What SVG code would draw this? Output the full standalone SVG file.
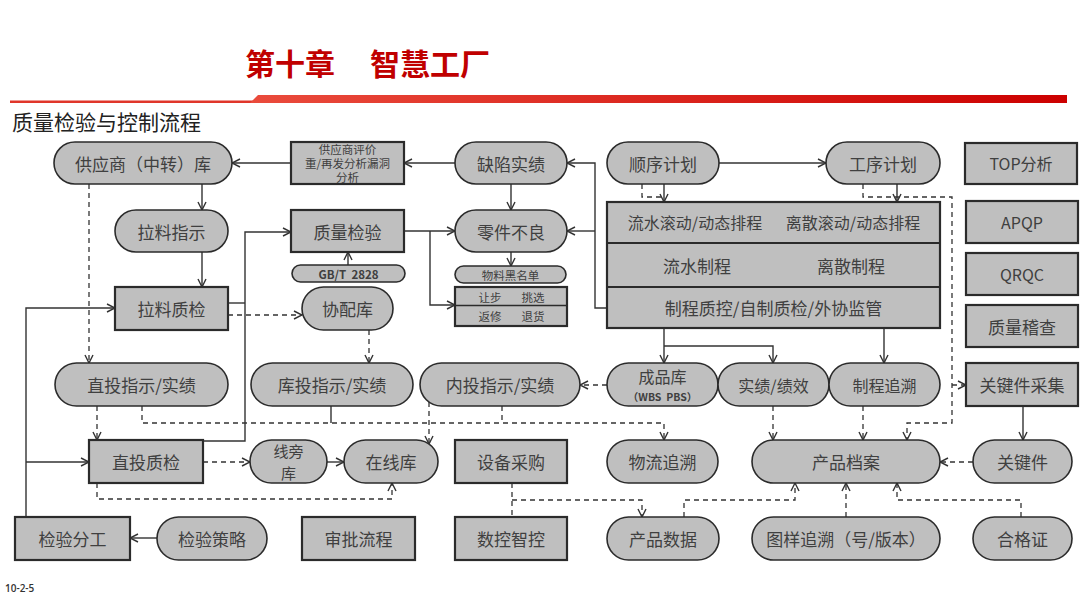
<svg xmlns="http://www.w3.org/2000/svg" width="1080" height="608" viewBox="0 0 1080 608">
<defs>
<linearGradient id="rg" x1="0" x2="1" y1="0" y2="0"><stop offset="0" stop-color="#ea4b3c"/><stop offset="1" stop-color="#cc0000"/></linearGradient>
<marker id="ah" markerWidth="10" markerHeight="10" refX="9" refY="5" orient="auto" markerUnits="userSpaceOnUse"><path d="M1,1 L9,5 L1,9" fill="none" stroke="#333" stroke-width="1.4"/></marker>
<style>
.n{fill:#bfbfbf;stroke:#2b2b2b;stroke-width:1.6}
.b{fill:#bfbfbf;stroke:#2b2b2b;stroke-width:2.2}
.t{font-family:"Noto Sans CJK SC","Noto Sans",sans-serif;font-size:17px;fill:#404040;text-anchor:middle;dominant-baseline:central}
.sm{font-size:11.5px}
.f16{font-size:16px}
.f15{font-size:15px}
.f11b{font-size:11.5px;font-weight:bold}
.f10b{font-size:10.5px;font-weight:bold}
.s{fill:none;stroke:#333;stroke-width:1.4}
.d{fill:none;stroke:#333;stroke-width:1.3;stroke-dasharray:5 4}
</style>
</defs>
<rect width="1080" height="608" fill="#ffffff"/>
<g id="header">
<text x="245" y="62" font-family="'Noto Sans CJK SC',sans-serif" font-size="30" font-weight="bold" fill="#c00000" dominant-baseline="central">第十章　<tspan dx="5">智慧工厂</tspan></text>
<rect x="10" y="100.5" width="250" height="2.5" fill="#e0362a"/>
<polygon points="250,103 258,95 1067,95 1067,103" fill="url(#rg)"/>
<text x="12" y="121" font-family="'Noto Sans CJK SC',sans-serif" font-size="21" fill="#222" dominant-baseline="central">质量检验与控制流程</text>
<text x="5" y="592" font-family="'Open Sans',sans-serif" font-size="10" font-weight="600" fill="#333">10-2-5</text>
</g>
<g id="connectors">
<path class="s" d="M291,163 H232" marker-end="url(#ah)"/>
<path class="s" d="M455,163 H404" marker-end="url(#ah)"/>
<path class="s" d="M202,184 V210" marker-end="url(#ah)"/>
<path class="s" d="M202,252 V287" marker-end="url(#ah)"/>
<path class="s" d="M511,184 V210" marker-end="url(#ah)"/>
<path class="s" d="M719,163 H826" marker-end="url(#ah)"/>
<path class="s" d="M607,308 H595 V163 H567" marker-end="url(#ah)"/>
<path class="s" d="M595,231 H567" marker-end="url(#ah)"/>
<path class="s" d="M404,231 H455" marker-end="url(#ah)"/>
<path class="s" d="M430,231 V305 H455" marker-end="url(#ah)"/>
<path class="s" d="M511,252 V266" marker-end="url(#ah)"/>
<path class="s" d="M348,265 V252" marker-end="url(#ah)"/>
<path class="s" d="M664,184 V202" marker-end="url(#ah)"/>
<path class="s" d="M897,184 V202" marker-end="url(#ah)"/>
<path class="s" d="M664,328 V363" marker-end="url(#ah)"/>
<path class="s" d="M664,346 H773 V363" marker-end="url(#ah)"/>
<path class="s" d="M884,328 V363" marker-end="url(#ah)"/>
<path class="s" d="M1023,406 V440" marker-end="url(#ah)"/>
<path class="s" d="M157,538 H130" marker-end="url(#ah)"/>
<path class="s" d="M228,303 H245"/>
<path class="s" d="M203,441 H245 V232 H291" marker-end="url(#ah)"/>
<path class="s" d="M26,517 V308 H115" marker-end="url(#ah)"/>
<path class="s" d="M26,462 H89" marker-end="url(#ah)"/>
<path class="s" d="M327,462 H344" marker-end="url(#ah)"/>
<path class="s" d="M331,406 V423"/>
<path class="d" d="M89,184 V363" marker-end="url(#ah)"/>
<path class="d" d="M228,315 H302" marker-end="url(#ah)"/>
<path class="d" d="M369,330 V363" marker-end="url(#ah)"/>
<path class="d" d="M97,406 V440" marker-end="url(#ah)"/>
<path class="d" d="M203,462 H250" marker-end="url(#ah)"/>
<path class="d" d="M97,483 V499 H392 V483" marker-end="url(#ah)"/>
<path class="d" d="M142,406 V423 H664 V440" marker-end="url(#ah)"/>
<path class="d" d="M502,406 V423"/>
<path class="d" d="M429,402 V444" marker-end="url(#ah)"/>
<path class="d" d="M607,385 H580" marker-end="url(#ah)"/>
<path class="d" d="M773,406 V440" marker-end="url(#ah)"/>
<path class="d" d="M863,406 V440" marker-end="url(#ah)"/>
<path class="d" d="M973,462 H940" marker-end="url(#ah)"/>
<path class="d" d="M512,483 V517"/>
<path class="d" d="M512,500 H642 V517" marker-end="url(#ah)"/>
<path class="d" d="M684,517 V500 H795 V483" marker-end="url(#ah)"/>
<path class="d" d="M846,517 V483" marker-end="url(#ah)"/>
<path class="d" d="M1021,517 V500 H897 V483" marker-end="url(#ah)"/>
<path class="d" d="M642,184 V197 H664"/>
<path class="d" d="M863,184 V197 H952 V423 H907 V440" marker-end="url(#ah)"/>
<path class="d" d="M952,385 H966" marker-end="url(#ah)"/>
</g>
<g id="n_gys"><rect class="n" x="54" y="142" width="178" height="42" rx="21"/><text class="t" x="143" y="163">供应商（中转）库</text></g>
<g id="n_gyspj"><rect class="b" x="291" y="142" width="113" height="42"/><text class="t sm" x="347.5" y="149">供应商评价</text><text class="t sm" x="347.5" y="163">重/再发分析漏洞</text><text class="t sm" x="347.5" y="177">分析</text></g>
<g id="n_qxsj"><rect class="n" x="455" y="142" width="112" height="42" rx="21"/><text class="t" x="511" y="163">缺陷实绩</text></g>
<g id="n_sxjh"><rect class="n" x="607" y="142" width="112" height="42" rx="21"/><text class="t" x="663" y="163">顺序计划</text></g>
<g id="n_gxjh"><rect class="n" x="826" y="142" width="114" height="42" rx="21"/><text class="t" x="883" y="163">工序计划</text></g>
<g id="n_top"><rect class="b" x="965" y="143" width="112" height="41"/><text class="t f16" x="1021" y="163">TOP分析</text></g>
<g id="n_llzs"><rect class="n" x="115" y="210" width="113" height="42" rx="21"/><text class="t" x="171.5" y="231">拉料指示</text></g>
<g id="n_zljy"><rect class="b" x="291" y="210" width="113" height="42"/><text class="t" x="347.5" y="231">质量检验</text></g>
<g id="n_ljbl"><rect class="n" x="455" y="210" width="112" height="42" rx="21"/><text class="t" x="511" y="231">零件不良</text></g>
<g id="n_block"><rect class="b" x="607" y="202" width="333" height="126"/><line x1="607" y1="243" x2="940" y2="243" stroke="#2b2b2b" stroke-width="2"/><line x1="607" y1="287" x2="940" y2="287" stroke="#2b2b2b" stroke-width="2"/>
<text class="t f16" x="695" y="222">流水滚动/动态排程</text><text class="t f16" x="853" y="222">离散滚动/动态排程</text>
<text class="t" x="697" y="265">流水制程</text><text class="t" x="851" y="265">离散制程</text>
<text class="t" x="773.5" y="307">制程质控/自制质检/外协监管</text></g>
<g id="n_apqp"><rect class="b" x="966" y="201" width="112" height="42"/><text class="t f16" x="1022" y="222">APQP</text></g>
<g id="n_qrqc"><rect class="b" x="966" y="253" width="112" height="42"/><text class="t f16" x="1022" y="274">QRQC</text></g>
<g id="n_zljc"><rect class="b" x="966" y="305" width="112" height="42"/><text class="t" x="1022" y="326">质量稽查</text></g>
<g id="n_gbt"><rect class="n" x="292" y="265" width="113" height="17" rx="8.5"/><text class="t f11b" x="348.5" y="273.5" xml:space="preserve">GB/T  2828</text></g>
<g id="n_wlhmd"><rect class="n" x="455" y="266" width="111" height="17" rx="8.5"/><text class="t sm" x="510.5" y="274.5">物料黑名单</text></g>
<g id="n_rb"><rect class="b" x="455" y="287" width="112" height="39"/><line x1="455" y1="305.5" x2="567" y2="305.5" stroke="#2b2b2b" stroke-width="1.5"/>
<text class="t sm" x="490" y="296.5">让步</text><text class="t sm" x="533" y="296.5">挑选</text><text class="t sm" x="490" y="315.5">返修</text><text class="t sm" x="533" y="315.5">退货</text></g>
<g id="n_llzj"><rect class="b" x="115" y="287" width="113" height="43"/><text class="t" x="171.5" y="308.5">拉料质检</text></g>
<g id="n_xpk"><rect class="n" x="302" y="287" width="91" height="43" rx="21.5"/><text class="t" x="347.5" y="308.5">协配库</text></g>
<g id="n_ztzs"><rect class="n" x="55" y="363" width="173" height="43" rx="21.5"/><text class="t" x="141.5" y="384.5">直投指示/实绩</text></g>
<g id="n_ktzs"><rect class="n" x="251" y="363" width="162" height="43" rx="21.5"/><text class="t" x="332" y="384.5">库投指示/实绩</text></g>
<g id="n_ntzs"><rect class="n" x="420" y="363" width="160" height="43" rx="21.5"/><text class="t" x="500" y="384.5">内投指示/实绩</text></g>
<g id="n_cpk"><rect class="n" x="607" y="363" width="111" height="43" rx="21.5"/><text class="t f16" x="662.5" y="376">成品库</text><text class="t f10b" x="662.5" y="396" xml:space="preserve">（WBS  PBS）</text></g>
<g id="n_sjjx"><rect class="n" x="718" y="363" width="111" height="43" rx="21.5"/><text class="t f16" x="773.5" y="384.5">实绩/绩效</text></g>
<g id="n_zcss"><rect class="n" x="829" y="363" width="111" height="43" rx="21.5"/><text class="t f16" x="884.5" y="384.5">制程追溯</text></g>
<g id="n_gjjcj"><rect class="b" x="966" y="363" width="112" height="43"/><text class="t" x="1022" y="384.5">关键件采集</text></g>
<g id="n_ztzj"><rect class="b" x="89" y="440" width="114" height="43"/><text class="t" x="146" y="461.5">直投质检</text></g>
<g id="n_xpk2"><rect class="n" x="250" y="440" width="77" height="43" rx="21.5"/><text class="t f15" x="288.5" y="450.5">线旁</text><text class="t f15" x="288.5" y="472">库</text></g>
<g id="n_zxk"><rect class="n" x="344" y="440" width="94" height="43" rx="21.5"/><text class="t" x="391" y="461.5">在线库</text></g>
<g id="n_sbcg"><rect class="b" x="455" y="440" width="112" height="43"/><text class="t" x="511" y="461.5">设备采购</text></g>
<g id="n_wlss"><rect class="n" x="607" y="440" width="111" height="43" rx="21.5"/><text class="t" x="662.5" y="461.5">物流追溯</text></g>
<g id="n_cpda"><rect class="n" x="752" y="440" width="188" height="43" rx="21.5"/><text class="t" x="846" y="461.5">产品档案</text></g>
<g id="n_gjj"><rect class="n" x="973" y="440" width="99" height="43" rx="21.5"/><text class="t" x="1022.5" y="461.5">关键件</text></g>
<g id="n_jyfg"><rect class="b" x="15" y="517" width="115" height="43"/><text class="t" x="72.5" y="538.5">检验分工</text></g>
<g id="n_jycl"><rect class="n" x="157" y="517" width="110" height="43" rx="21.5"/><text class="t" x="212" y="538.5">检验策略</text></g>
<g id="n_splc"><rect class="b" x="302" y="517" width="113" height="43"/><text class="t" x="358.5" y="538.5">审批流程</text></g>
<g id="n_skzk"><rect class="b" x="455" y="517" width="112" height="43"/><text class="t" x="511" y="538.5">数控智控</text></g>
<g id="n_cpsj"><rect class="n" x="607" y="517" width="112" height="43" rx="21.5"/><text class="t" x="663" y="538.5">产品数据</text></g>
<g id="n_tyss"><rect class="n" x="752" y="517" width="188" height="43" rx="21.5"/><text class="t" x="846" y="538.5">图样追溯（号/版本）</text></g>
<g id="n_hgz"><rect class="n" x="973" y="517" width="99" height="43" rx="21.5"/><text class="t" x="1022.5" y="538.5">合格证</text></g>
</svg>
